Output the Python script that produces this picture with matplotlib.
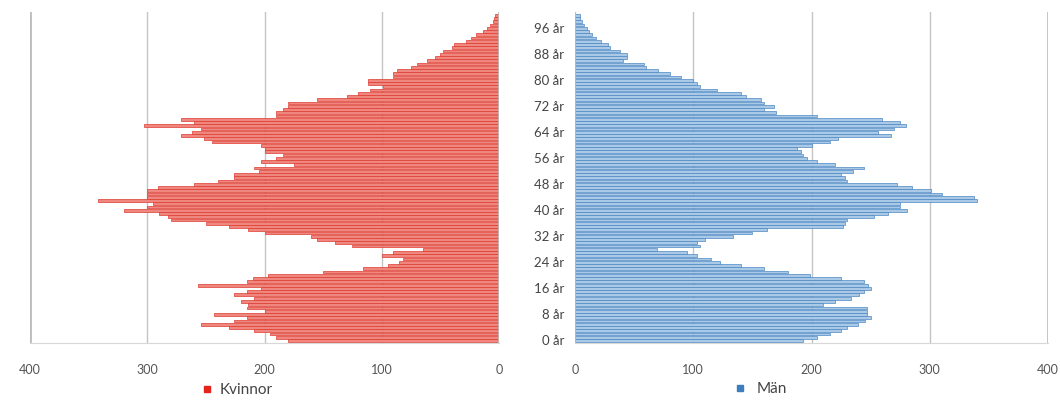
import matplotlib.pyplot as plt
from matplotlib.lines import Line2D

ages = list(range(0, 101))

kvinnor = [180, 190, 195, 209, 230, 254, 226, 215, 243, 200,
           215, 214, 220, 209, 226, 215, 203, 257, 215, 210,
           197, 150, 116, 95, 85, 82, 100, 90, 65, 125,
           140, 155, 160, 200, 214, 230, 250, 280, 282, 290,
           320, 300, 295, 342, 300, 300, 300, 291, 260, 240,
           226, 226, 205, 209, 175, 203, 190, 184, 200, 200,
           203, 245, 252, 271, 262, 254, 303, 260, 271, 190,
           190, 184, 180, 180, 155, 130, 120, 110, 99, 112,
           112, 90, 90, 87, 75, 70, 61, 55, 50, 48,
           40, 38, 28, 24, 20, 14, 10, 8, 5, 4, 3]

man = [193, 205, 216, 225, 230, 239, 245, 250, 247, 247,
       247, 210, 220, 233, 240, 244, 250, 248, 244, 225,
       199, 180, 160, 140, 123, 115, 103, 95, 69, 106,
       103, 110, 134, 150, 162, 227, 228, 230, 253, 265,
       281, 275, 275, 340, 337, 310, 301, 285, 272, 230,
       228, 225, 235, 244, 220, 205, 196, 193, 191, 188,
       200, 216, 222, 267, 256, 270, 280, 275, 260, 205,
       170, 160, 168, 160, 157, 145, 140, 120, 106, 103,
       100, 90, 80, 70, 60, 58, 41, 44, 44, 38,
       30, 28, 22, 18, 14, 12, 10, 8, 6, 4, 4]

tick_vals = [0, 100, 200, 300, 400]
age_ticks = list(range(0, 97, 8))
age_labels = [f"{a} år" for a in age_ticks]

plt.rcParams['font.family'] = ['Lato', 'DejaVu Sans']

fig = plt.figure(figsize=(10.6, 4.01), dpi=100)
W, H = 1060, 401
bottom = 1 - 343 / H
height = (343 - 12) / H
ax_l = fig.add_axes([30 / W, bottom, (499 - 30) / W, height])
ax_r = fig.add_axes([575 / W, bottom, (1048 - 575) / W, height])

red_face, red_edge = '#f0877e', '#dc3a30'
blue_face, blue_edge = '#a9c9e6', '#4d88c3'

ax_l.barh(ages, kvinnor, height=0.85, color=red_face, edgecolor=red_edge, linewidth=0.5)
ax_r.barh(ages, man, height=0.85, color=blue_face, edgecolor=blue_edge, linewidth=0.5)

for ax in (ax_l, ax_r):
    ax.set_xlim(0, 400)
    ax.set_ylim(-0.8, 101)
    ax.set_xticks(tick_vals)
    ax.set_xticklabels([str(v) for v in tick_vals])
    ax.tick_params(axis='x', length=0, labelsize=9, colors='#555555', pad=15)
    ax.grid(axis='x', color='#c4c4c4', linewidth=1)
    ax.set_axisbelow(True)
    for s in ('top', 'left', 'right'):
        ax.spines[s].set_visible(False)
    ax.spines['bottom'].set_color('#d8d8d8')

ax_l.invert_xaxis()
ax_l.set_yticks([])
ax_l.axvline(0, color='#bdbdbd', linewidth=1.2)
ax_l.axvline(400, color='#bdbdbd', linewidth=2)

ax_r.set_yticks(age_ticks)
ax_r.set_yticklabels(age_labels)
ax_r.tick_params(axis='y', length=0, labelsize=9.5, colors='#444444', pad=8)
ax_r.axvline(0, color='#bdbdbd', linewidth=1.2)
ax_r.axvline(400, color='#bdbdbd', linewidth=1.2)

fig.legend(handles=[Line2D([], [], marker='s', linestyle='', color='#e3241b', markersize=5)],
           labels=['Kvinnor'], loc='center', bbox_to_anchor=(232 / W, 1 - 390 / H),
           frameon=False, fontsize=11, handletextpad=-0.2, labelcolor='#444444')
fig.legend(handles=[Line2D([], [], marker='s', linestyle='', color='#3d7ebf', markersize=5)],
           labels=['Män'], loc='center', bbox_to_anchor=(756 / W, 1 - 389 / H),
           frameon=False, fontsize=11, handletextpad=0.1, labelcolor='#444444')

fig.savefig('out.png', dpi=100)
